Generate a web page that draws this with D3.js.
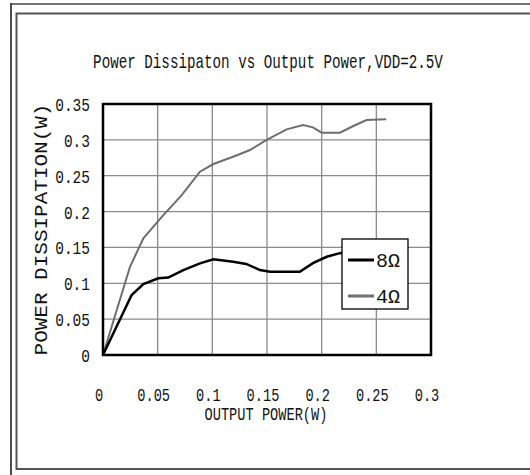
<!DOCTYPE html>
<html>
<head>
<meta charset="utf-8">
<script src="https://cdn.jsdelivr.net/npm/d3@7"></script>
<style>
  body { margin: 0; background: #fff; }
  text { font-family: "Liberation Mono", "DejaVu Sans Mono", monospace; fill: #111; }
</style>
</head>
<body>
<div id="chart"></div>
<script>
// data
var xTicks = [0, 0.05, 0.1, 0.15, 0.2, 0.25, 0.3];
var yTicks = [0, 0.05, 0.1, 0.15, 0.2, 0.25, 0.3, 0.35];
var seriesNames = ["8\u03a9", "4\u03a9"];

var x8 = [0, 0.0262, 0.0369, 0.0506, 0.0597, 0.0735, 0.0887, 0.101, 0.119, 0.131, 0.1436, 0.1527, 0.18, 0.192, 0.2046, 0.2167, 0.23, 0.26];
var y8 = [0, 0.0837, 0.099, 0.107, 0.108, 0.1185, 0.1278, 0.1334, 0.130, 0.127, 0.1185, 0.116, 0.116, 0.128, 0.137, 0.142, 0.144, 0.145];

var x4 = [0, 0.0247, 0.0369, 0.0552, 0.072, 0.0887, 0.101, 0.119, 0.1344, 0.1497, 0.168, 0.183, 0.192, 0.2, 0.2167, 0.229, 0.241, 0.259];
var y4 = [0, 0.123, 0.1627, 0.195, 0.223, 0.2556, 0.2663, 0.2765, 0.2858, 0.30, 0.3147, 0.3206, 0.3174, 0.31, 0.31, 0.3193, 0.3277, 0.3286];

var width = 530, height = 475;
var margin = {top: 104, right: 99, bottom: 120, left: 103};

var svg = d3.select("#chart").append("svg")
    .attr("width", width)
    .attr("height", height);

// outer frames
svg.append("line").attr("x1", 11).attr("y1", 3).attr("x2", 11).attr("y2", 475)
    .attr("stroke", "#111").attr("stroke-width", 1.5);
svg.append("line").attr("x1", 11).attr("y1", 4).attr("x2", 530).attr("y2", 4)
    .attr("stroke", "#444").attr("stroke-width", 1.5);
svg.append("rect").attr("x", 16.5).attr("y", 13.5).attr("width", 530).attr("height", 455.5)
    .attr("fill", "none").attr("stroke", "#555").attr("stroke-width", 2);

var x = d3.scaleLinear().domain([0, 0.3]).range([margin.left, width - margin.right]);
var y = d3.scaleLinear().domain([0, 0.35]).range([height - margin.bottom, margin.top]);

// place a text at (tx, ty) and squash it horizontally to the wanted width
// (the original uses a tall narrow font)
function placeText(parent, str, tx, ty, size, wanted, anchor, rot) {
    var t = parent.append("text")
        .attr("font-size", size)
        .attr("text-anchor", anchor)
        .text(str);
    var s = wanted / t.node().getComputedTextLength();
    var tr = "translate(" + tx + "," + ty + ")" + (rot ? " rotate(" + rot + ")" : "") + " scale(" + s + ",1)";
    t.attr("transform", tr);
    return t;
}

// title
placeText(svg, "Power Dissipaton vs Output Power,VDD=2.5V", 268, 68, 20, 350, "middle");

// grid
var grid = svg.append("g").attr("stroke", "#8a8a8a").attr("stroke-width", 1.3);
grid.selectAll(".gx").data(xTicks.slice(1, -1)).enter().append("line")
    .attr("x1", function(d) { return x(d); }).attr("x2", function(d) { return x(d); })
    .attr("y1", y(0)).attr("y2", y(0.35));
grid.selectAll(".gy").data(yTicks.slice(1, -1)).enter().append("line")
    .attr("y1", function(d) { return y(d); }).attr("y2", function(d) { return y(d); })
    .attr("x1", x(0)).attr("x2", x(0.3));

// tick labels
var yl = svg.append("g");
yTicks.forEach(function(d) {
    placeText(yl, String(d), x(0) - 13, y(d) + 7, 19, String(d).length * 8.7, "end");
});
var xl = svg.append("g");
xTicks.forEach(function(d) {
    placeText(xl, String(d), x(d) - 4, 401, 19, String(d).length * 8.2, "middle");
});

// axis titles
placeText(svg, "POWER DISSIPATION(W)", 47, (y(0) + y(0.35)) / 2, 19, 252, "middle", -90);
placeText(svg, "OUTPUT POWER(W)", 266, 420, 18, 123, "middle");

// series
var line = d3.line()
    .x(function(d) { return x(d[0]); })
    .y(function(d) { return y(d[1]); });

svg.append("path")
    .datum(d3.zip(x4, y4))
    .attr("d", line)
    .attr("fill", "none")
    .attr("stroke", "#6e6e6e")
    .attr("stroke-width", 2);

svg.append("path")
    .datum(d3.zip(x8, y8))
    .attr("d", line)
    .attr("fill", "none")
    .attr("stroke", "#000")
    .attr("stroke-width", 2.5);

// plot border
svg.append("rect")
    .attr("x", x(0)).attr("y", y(0.35))
    .attr("width", x(0.3) - x(0)).attr("height", y(0) - y(0.35))
    .attr("fill", "none").attr("stroke", "#000").attr("stroke-width", 2.5);

// legend
var lg = svg.append("g").attr("transform", "translate(342,239)");
lg.append("rect").attr("width", 66).attr("height", 70)
    .attr("fill", "#fff").attr("stroke", "#000").attr("stroke-width", 1.3);
var colors = ["#000", "#6e6e6e"];
seriesNames.forEach(function(name, i) {
    var ly = 21 + i * 36;
    lg.append("line").attr("x1", 6).attr("x2", 32).attr("y1", ly).attr("y2", ly)
        .attr("stroke", colors[i]).attr("stroke-width", 3);
    placeText(lg, name, 34, ly + 7, 20, 24, "start");
});
</script>
</body>
</html>
